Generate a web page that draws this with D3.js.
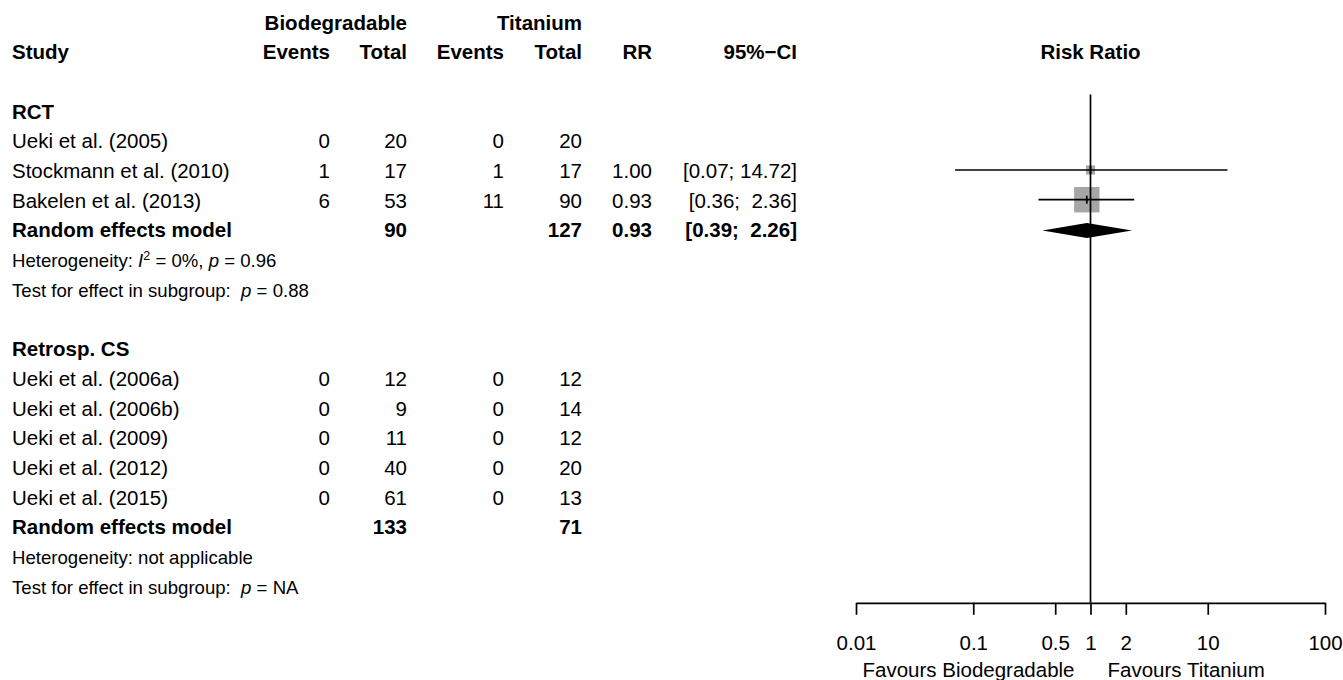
<!DOCTYPE html>
<html>
<head>
<meta charset="utf-8">
<script src="https://cdn.jsdelivr.net/npm/d3@7"></script>
<style>
  body { margin: 0; background: #fff; }
  svg text { font-family: "Liberation Sans", Arial, Helvetica, sans-serif; fill: #000; white-space: pre; }
</style>
</head>
<body>
<svg id="chart"></svg>
<script>
// ---- data ----
const groupNames = ["RCT", "Retrosp. CS"];
const studyGroup = [0, 0, 0, 1, 1, 1, 1, 1];
const studies = ["Ueki et al. (2005)", "Stockmann et al. (2010)", "Bakelen et al. (2013)",
  "Ueki et al. (2006a)", "Ueki et al. (2006b)", "Ueki et al. (2009)", "Ueki et al. (2012)", "Ueki et al. (2015)"];
const bioEvents = [0, 1, 6, 0, 0, 0, 0, 0];
const bioTotal  = [20, 17, 53, 12, 9, 11, 40, 61];
const tiEvents  = [0, 1, 11, 0, 0, 0, 0, 0];
const tiTotal   = [20, 17, 90, 12, 14, 12, 20, 13];
const rr        = [null, 1.00, 0.93, null, null, null, null, null];
const ciLow     = [null, 0.07, 0.36, null, null, null, null, null];
const ciHigh    = [null, 14.72, 2.36, null, null, null, null, null];
const weight    = [0, 11.5, 88.5, 0, 0, 0, 0, 0];

const subBioTotal = [90, 133];
const subTiTotal  = [127, 71];
const subRR   = [0.93, null];
const subLow  = [0.39, null];
const subHigh = [2.26, null];
const hetI2   = ["0%", null];
const hetP    = ["0.96", null];
const testP   = ["0.88", "NA"];

const tickValues = [0.01, 0.1, 0.5, 1, 2, 10, 100];
const tickLabels = ["0.01", "0.1", "0.5", "1", "2", "10", "100"];
const labelLeft = "Favours Biodegradable";
const labelRight = "Favours Titanium";

// ---- layout ----
const W = 1343, H = 680;
const fs = 20.5, fsSmall = 18.6;
const col = {study: 12, bioE: 330, bioT: 407, tiE: 504, tiT: 582, rr: 652, ci: 797};

const svg = d3.select("#chart").attr("width", W).attr("height", H);

const rowY = d3.scaleLinear().domain([0, 19]).range([22.5, 22.5 + 19 * 29.7]);
const base = i => rowY(i) + 7;

const x = d3.scaleLog().domain([0.01, 100]).range([856, 1325]);
const f2 = d3.format(".2f");
const fmtCI = (lo, hi) => "[" + f2(lo) + "; " + f2(hi).padStart(5, " ") + "]";

function txt(g, xp, i, s, anchor, bold, size) {
  return g.append("text")
    .attr("x", xp).attr("y", base(i))
    .attr("text-anchor", anchor || "start")
    .attr("font-weight", bold ? "bold" : "normal")
    .attr("font-size", size || fs)
    .text(s);
}

const tab = svg.append("g").attr("class", "table");

// headers
txt(tab, col.bioT, 0, "Biodegradable", "end", true);
txt(tab, col.tiT, 0, "Titanium", "end", true);
txt(tab, col.study, 1, "Study", "start", true);
txt(tab, col.bioE, 1, "Events", "end", true);
txt(tab, col.bioT, 1, "Total", "end", true);
txt(tab, col.tiE, 1, "Events", "end", true);
txt(tab, col.tiT, 1, "Total", "end", true);
txt(tab, col.rr, 1, "RR", "end", true);
txt(tab, col.ci, 1, "95%\u2212CI", "end", true);
txt(tab, x(1), 1, "Risk Ratio", "middle", true);

// build rows
let rows = [];
let r = 3;
groupNames.forEach((gName, g) => {
  rows.push({type: "group", i: r++, g});
  studies.forEach((s, k) => { if (studyGroup[k] === g) rows.push({type: "study", i: r++, k}); });
  rows.push({type: "summary", i: r++, g});
  rows.push({type: "het", i: r++, g});
  rows.push({type: "test", i: r++, g});
  r++;
});

const plot = svg.append("g").attr("class", "plot");

rows.forEach(d => {
  if (d.type === "group") {
    txt(tab, col.study, d.i, groupNames[d.g], "start", true);
  } else if (d.type === "study") {
    const k = d.k;
    txt(tab, col.study, d.i, studies[k]);
    txt(tab, col.bioE, d.i, bioEvents[k], "end");
    txt(tab, col.bioT, d.i, bioTotal[k], "end");
    txt(tab, col.tiE, d.i, tiEvents[k], "end");
    txt(tab, col.tiT, d.i, tiTotal[k], "end");
    if (rr[k] != null) {
      txt(tab, col.rr, d.i, f2(rr[k]), "end");
      txt(tab, col.ci, d.i, fmtCI(ciLow[k], ciHigh[k]), "end");
      const cy = rowY(d.i) - 1;
      const sz = 2.7 * Math.sqrt(weight[k]);
      plot.append("rect")
        .attr("x", x(rr[k]) - sz / 2).attr("y", cy - sz / 2)
        .attr("width", sz).attr("height", sz)
        .attr("fill", "#a6a6a6");
      plot.append("line")
        .attr("x1", x(ciLow[k])).attr("x2", x(ciHigh[k]))
        .attr("y1", cy).attr("y2", cy)
        .attr("stroke", "#000").attr("stroke-width", 1.7);
      plot.append("line")
        .attr("x1", x(rr[k])).attr("x2", x(rr[k]))
        .attr("y1", cy - 4).attr("y2", cy + 4)
        .attr("stroke", "#000").attr("stroke-width", 1.7);
    }
  } else if (d.type === "summary") {
    const g = d.g;
    txt(tab, col.study, d.i, "Random effects model", "start", true);
    txt(tab, col.bioT, d.i, subBioTotal[g], "end", true);
    txt(tab, col.tiT, d.i, subTiTotal[g], "end", true);
    if (subRR[g] != null) {
      txt(tab, col.rr, d.i, f2(subRR[g]), "end", true);
      txt(tab, col.ci, d.i, fmtCI(subLow[g], subHigh[g]), "end", true);
      const cy = rowY(d.i);
      const hh = 7.5;
      plot.append("path")
        .attr("d", `M${x(subLow[g])},${cy} L${x(subRR[g])},${cy - hh} L${x(subHigh[g])},${cy} L${x(subRR[g])},${cy + hh} Z`)
        .attr("fill", "#000");
    }
  } else if (d.type === "het") {
    const g = d.g;
    const t = txt(tab, col.study, d.i, null, "start", false, fsSmall);
    if (hetI2[g] == null) {
      t.text("Heterogeneity: not applicable");
    } else {
      t.append("tspan").text("Heterogeneity: ");
      t.append("tspan").attr("font-style", "italic").text("I");
      t.append("tspan").attr("font-size", 12.5).attr("dy", -7).text("2");
      t.append("tspan").attr("dy", 7).text(" = " + hetI2[g] + ", ");
      t.append("tspan").attr("font-style", "italic").text("p");
      t.append("tspan").text(" = " + hetP[g]);
    }
  } else if (d.type === "test") {
    const g = d.g;
    const t = txt(tab, col.study, d.i, null, "start", false, fsSmall);
    t.append("tspan").text("Test for effect in subgroup:  ");
    t.append("tspan").attr("font-style", "italic").text("p");
    t.append("tspan").text(" = " + testP[g]);
  }
});

// axis
const axisY = rowY(19) + 16;
const axis = d3.axisBottom(x)
  .tickValues(tickValues)
  .tickFormat((v, i) => tickLabels[i])
  .tickSize(12)
  .tickSizeOuter(0)
  .tickPadding(21);

const axG = svg.append("g")
  .attr("transform", `translate(0,${axisY})`)
  .call(axis);
axG.select(".domain").attr("stroke", "#000").attr("stroke-width", 1.7);
axG.selectAll(".tick line").attr("stroke", "#000").attr("stroke-width", 1.7);
axG.selectAll(".tick text")
  .attr("font-size", fs)
  .attr("font-family", "Liberation Sans, Arial, sans-serif")
  .attr("fill", "#000");

// reference line at RR = 1
svg.append("line")
  .attr("x1", x(1)).attr("x2", x(1))
  .attr("y1", rowY(3) - 17).attr("y2", axisY)
  .attr("stroke", "#000").attr("stroke-width", 1.7);

// favours labels
svg.append("text")
  .attr("x", x(1) - 16).attr("y", axisY + 74)
  .attr("text-anchor", "end").attr("font-size", fs)
  .text(labelLeft);
svg.append("text")
  .attr("x", x(1) + 17).attr("y", axisY + 74)
  .attr("text-anchor", "start").attr("font-size", fs)
  .text(labelRight);
</script>
</body>
</html>
